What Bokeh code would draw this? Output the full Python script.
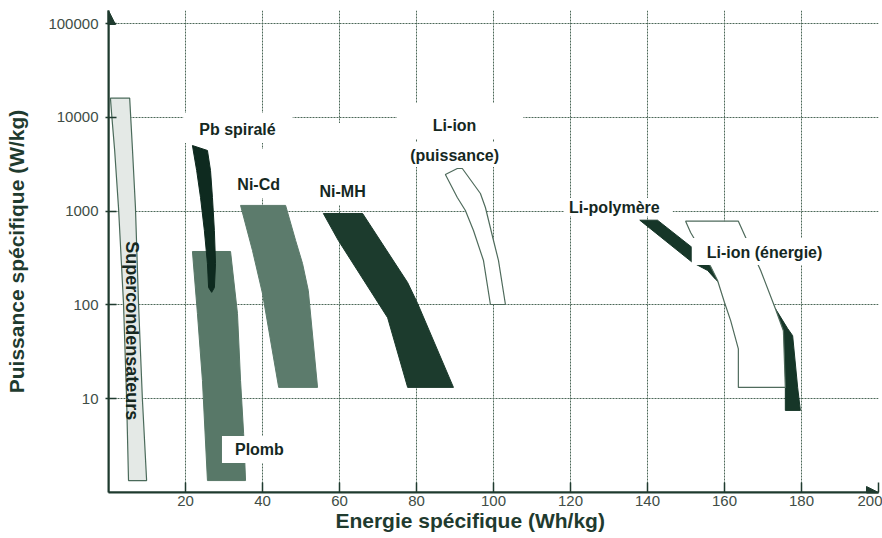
import math
from bokeh.plotting import figure
from bokeh.models import Range1d, FixedTicker, BasicTickFormatter, Label, Arrow, NormalHead
from bokeh.embed import file_html
from bokeh.resources import INLINE

# ---------------- data ----------------
energy_ticks = [20, 40, 60, 80, 100, 120, 140, 160, 180, 200]
power_ticks = [10, 100, 1000, 10000, 100000]

# Supercondensateurs
super_e = [0.5, 0.8, 1.6, 2.6, 3.9, 4.7, 5.2, 9.9, 8.8, 7.8, 7.0, 6.2, 5.5]
super_p = [16000, 11000, 4430, 1090, 103, 10, 1.34, 1.34, 10, 103, 1090, 4760, 16000]

# Plomb
plomb_e = [21.8, 31.7, 33.5, 34.3, 35.1, 35.6, 25.7, 24.4, 23.1]
plomb_p = [371, 371, 81, 15.6, 4.25, 1.34, 1.34, 15.6, 81]

# Pb spiralé
pbsp_e = [21.8, 25.7, 26.5, 27.0, 27.5, 27.8, 27.5, 26.8, 26.0, 25.7, 24.9, 23.9, 22.9]
pbsp_p = [5000, 4430, 2710, 1400, 620, 276, 153, 136, 153, 276, 620, 1400, 2710]

# Ni-Cd
nicd_e = [34.3, 46.0, 48.6, 50.4, 51.9, 54.3, 44.2, 40.0, 37.4]
nicd_p = [1150, 1150, 486, 276, 142, 13.2, 13.2, 132, 380]

# Ni-MH
nimh_e = [55.8, 66.0, 77.7, 80.3, 89.6, 77.7, 72.5, 59.7]
nimh_p = [943, 943, 173, 103.5, 13.2, 13.2, 73, 486]

# Li-ion (puissance)
lip_e = [87.5, 90.6, 91.9, 96.6, 97.9, 100.0, 101.3, 103.1, 99.2, 97.4, 94.8, 92.7, 90.6]
lip_p = [2455, 2845, 2845, 1541, 1092, 486, 297, 101, 101, 297, 621, 1015, 1397]

# Li-polymère
lipo_e = [138.0, 142.6, 151.9, 159.0, 166.8, 173.2, 176.4, 177.7, 179.0, 179.7,
          175.8, 175.8, 169.4, 157.7, 155.6, 151.7]
lipo_p = [800, 800, 400, 264, 142, 91.5, 56, 47, 13.2, 7.5,
          7.5, 13.2, 68, 187, 233, 283]

# Li-ion (énergie)
lie_e = [149.9, 163.6, 165.5, 169.4, 173.2, 175.3, 175.8, 163.6, 163.6, 161.6,
         160.0, 158.2, 156.4, 151.2]
lie_p = [780, 780, 523, 233, 91.5, 53, 13.2, 13.2, 34, 68,
         106, 182, 257, 592]

# ---------------- style ----------------
AXIS = "#1f3b2f"
GRID = "#4c6858"
TEXT = "#15281f"
TICK_TEXT = "#404d46"
FONT = "Liberation Sans"

DECADE = 93.8
YTOP = 10 ** (482 / DECADE)

p = figure(width=882, height=538,
           x_range=Range1d(0, 200), y_range=Range1d(1, YTOP),
           y_axis_type="log", output_backend="svg", toolbar_location=None,
           min_border_left=108, min_border_right=4, min_border_top=10, min_border_bottom=46,
           background_fill_color="white", border_fill_color="white",
           outline_line_color=None)

p.xaxis.ticker = FixedTicker(ticks=energy_ticks)
p.yaxis.ticker = FixedTicker(ticks=power_ticks)
p.xgrid.ticker = FixedTicker(ticks=energy_ticks)
p.ygrid.ticker = FixedTicker(ticks=power_ticks)
p.yaxis.formatter = BasicTickFormatter(use_scientific=False)

for g in (p.xgrid, p.ygrid):
    g.grid_line_color = GRID
    g.grid_line_dash = "2 1"
    g.grid_line_width = 1

for ax in (p.xaxis, p.yaxis):
    ax.axis_line_color = AXIS
    ax.axis_line_width = 2
    ax.major_tick_line_color = AXIS
    ax.major_tick_line_width = 1.5
    ax.minor_tick_line_color = None
    ax.major_label_text_font = FONT
    ax.major_label_text_font_size = "15px"
    ax.major_label_text_color = TICK_TEXT
    ax.axis_label_text_font = FONT
    ax.axis_label_text_font_style = "bold"
    ax.axis_label_text_font_size = "21px"
    ax.axis_label_text_color = AXIS

p.xaxis.major_tick_in = 10
p.xaxis.major_tick_out = 0
p.xaxis.major_label_standoff = 3
p.xaxis.axis_label = "Energie spécifique (Wh/kg)" + "\u00a0" * 8
p.xaxis.axis_label_standoff = 0

p.yaxis.major_tick_in = 8
p.yaxis.major_tick_out = 3
p.yaxis.major_label_standoff = 7
p.yaxis.axis_label = "Puissance spécifique (W/kg)"
p.yaxis.axis_label_standoff = 17

# ---------------- regions ----------------
p.patch(super_e, super_p, fill_color="#e4e9e6", line_color="#4a6a5a", line_width=1.2)
p.patch(plomb_e, plomb_p, fill_color="#587868", line_color="#587868", line_width=1)
p.patch(pbsp_e, pbsp_p, fill_color="#0e2a1f", line_color="#0e2a1f", line_width=1)
p.patch(nicd_e, nicd_p, fill_color="#5c7b6c", line_color="#5c7b6c", line_width=1)
p.patch(nimh_e, nimh_p, fill_color="#1c3b2d", line_color="#1c3b2d", line_width=1)
p.patch(lip_e, lip_p, fill_color="white", line_color="#4f6b5c", line_width=1.2)
p.patch(lipo_e, lipo_p, fill_color="#163628", line_color="#163628", line_width=1)
p.patch(lie_e, lie_p, fill_color="white", line_color="#4f6b5c", line_width=1.2)

# ---------------- axis arrows ----------------
p.add_layout(Arrow(end=NormalHead(size=14, fill_color=AXIS, line_color=AXIS),
                   x_start=0, y_start=1, x_end=0, y_end=YTOP,
                   line_color=AXIS, line_width=2))
p.add_layout(Arrow(end=NormalHead(size=12, fill_color=AXIS, line_color=AXIS),
                   x_start=0, y_start=1, x_end=200, y_end=1,
                   line_color=AXIS, line_width=2))

# ---------------- labels ----------------
def add_label(x, y, text, pad=None, size="16px", angle=0.0, bg=True):
    kw = dict(x=x, y=y, text=text, text_font=FONT, text_font_style="bold",
              text_font_size=size, text_color=TEXT, text_align="center",
              text_baseline="middle", angle=angle)
    if bg:
        top, right, bottom, left = pad
        kw["background_fill_color"] = "white"
        kw["padding"] = dict(top=top, right=right, bottom=bottom, left=left)
        # keep the text itself centred on (x, y): the padded box is what gets centred
        kw["x_offset"] = (right - left) / 2
        kw["y_offset"] = (top - bottom) / 2
    p.add_layout(Label(**kw))

add_label(33.5, 7410, "Pb spiralé", (8, 17, 5, 16))
add_label(39.0, 1922, "Ni-Cd", (27, 10, 5, 10))
add_label(60.8, 1618, "Ni-MH", (60, 10, 5, 10))
add_label(89.9, 8180, "Li-ion", (14, 47, 5, 36))
add_label(89.9, 3917, "(puissance)", (5, 24, 3, 13))
add_label(131.4, 1092, "Li-polymère", (1, 13, 0, 5))
add_label(170.4, 362, "Li-ion (énergie)", (6, 12, 4, 15))
add_label(39.2, 2.87, "Plomb", (5, 10, 5, 13))
add_label(6.2, 53, "Supercondensateurs", size="18px", angle=-math.pi / 2, bg=False)

open("out.html", "w").write(file_html(p, INLINE))
